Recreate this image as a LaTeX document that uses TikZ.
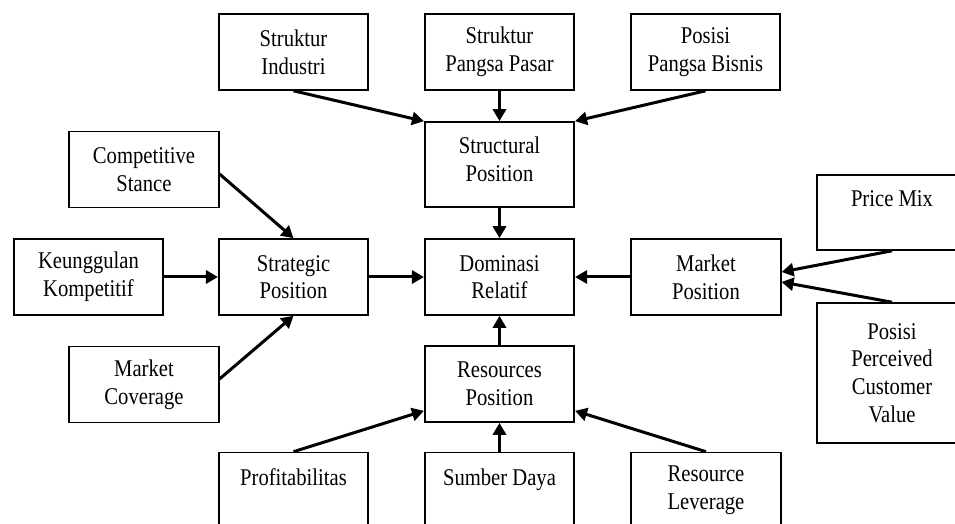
\documentclass[tikz,border=0pt]{standalone}
\usepackage{fontspec}
\setmainfont{Liberation Serif}[FakeStretch=0.86]
\usepackage{tikz}
\usetikzlibrary{shapes,arrows.meta,positioning}

\begin{document}
\begin{tikzpicture}[x=0.5pt, y=-0.5pt, node distance=103pt]
    % Define styles
    \tikzstyle{box} = [rectangle, draw, line width=0.8pt, minimum width=74.75pt, minimum height=38pt, inner sep=0pt, align=center, font=\fontsize{12pt}{13.8pt}\selectfont]
    \tikzstyle{arrow} = [line width=1.5pt, -{Triangle[length=6pt,width=6.5pt]}]

    % Page frame
    \path[use as bounding box, clip] (0,0) rectangle (955,524);

    % Centre column
    \node [box] (dom) at (499.5,277) {Dominasi\\Relatif};
    \node [box, above of=dom, node distance=56.25pt, minimum height=42.5pt] (struct) {Structural\\Position\\[-8.3pt]\mbox{}};
    \node [box, below of=dom, node distance=53.5pt] (res) {Resources\\Position};
    \node [box, left of=dom] (strat) {Strategic\\Position};
    \node [box, right of=dom, node distance=103.25pt] (market) {Market\\Position};

    % Structural factors
    \node [box, above of=struct, node distance=56.25pt] (pasar) {Struktur\\Pangsa Pasar};
    \node [box, left of=pasar] (indus) {Struktur\\Industri};
    \node [box, right of=pasar] (bisnis) {Posisi\\Pangsa Bisnis};

    % Strategic factors
    \node [box, left of=strat, node distance=102.5pt] (keunggulan) {Keunggulan\\Kompetitif};
    \node [box, above of=strat, node distance=53.75pt, xshift=-74.75pt] (stance) {Competitive\\Stance};
    \node [box, below of=strat, node distance=53.75pt, xshift=-74.75pt] (coverage) {Market\\Coverage};

    % Market factors
    \node [box, right of=market, node distance=93pt, yshift=32.25pt, minimum height=37.5pt] (price) {Price Mix\\\mbox{}};
    \node [box, right of=market, node distance=93pt, yshift=-48pt, minimum height=70pt] (pcv) {Posisi\\Perceived\\Customer\\Value};

    % Resource factors
    \node [box, below of=res, node distance=53.25pt] (sumber) {Sumber Daya\\\mbox{}};
    \node [box, left of=sumber] (profit) {Profitabilitas\\\mbox{}};
    \node [box, right of=sumber, node distance=103.25pt] (leverage) {Resource\\Leverage};

    % Arrows
    \draw [arrow] (indus.south) -- (struct.north west);
    \draw [arrow] (pasar) -- (struct);
    \draw [arrow] (bisnis.south) -- (struct.north east);
    \draw [arrow] ([yshift=-2.25pt]stance.east) -- (strat.north);
    \draw [arrow] (keunggulan) -- (strat);
    \draw [arrow] ([yshift=2.75pt]coverage.east) -- (strat.south);
    \draw [arrow] (struct) -- (dom);
    \draw [arrow] (strat) -- (dom);
    \draw [arrow] (market) -- (dom);
    \draw [arrow] (res) -- (dom);
    \draw [arrow] (price.south) -- ([yshift=2.5pt]market.east);
    \draw [arrow] (pcv.north) -- ([yshift=-2.5pt]market.east);
    \draw [arrow] (profit.north) -- ([yshift=6pt]res.south west);
    \draw [arrow] (sumber) -- (res);
    \draw [arrow] (leverage.north) -- ([yshift=6pt]res.south east);
\end{tikzpicture}
\end{document}
